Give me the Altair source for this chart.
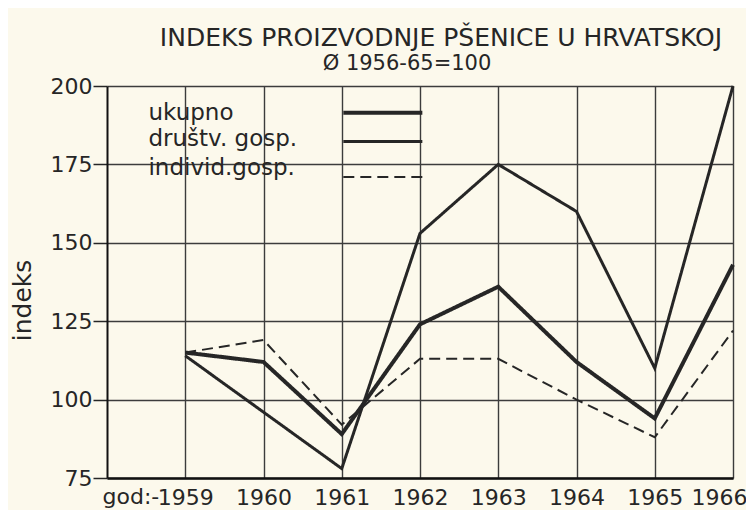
import altair as alt
import pandas as pd

# ---- data ----
years = [1959, 1960, 1961, 1962, 1963, 1964, 1965, 1966]
ukupno = [115, 112, 89, 124, 136, 112, 94, 143]
drustv = [114, 96, 78, 153, 175, 160, 110, 200]
individ = [115, 119, 92, 113, 113, 100, 88, 122]
series_names = ["ukupno", "društv. gosp.", "individ.gosp."]
y_ticks = [75, 100, 125, 150, 175, 200]
title_text = "INDEKS PROIZVODNJE PŠENICE U HRVATSKOJ"
subtitle_text = "Ø 1956-65=100"
x_prefix = "god:-"
y_title = "indeks"

rows = []
for name, vals in zip(series_names, [ukupno, drustv, individ]):
    for yr, v in zip(years, vals):
        rows.append({"godina": yr, "indeks": v, "serija": name})
df = pd.DataFrame(rows)

# legend placement (in data units, inside the plot)
legend_df = pd.DataFrame({
    "serija": series_names,
    "lx": [1958.53] * 3,
    "ty": [191.5, 183.0, 174.0],
    "ly": [191.5, 182.3, 171.0],
    "x1": [1961.02] * 3,
    "x2": [1962.03] * 3,
})

INK = "#262626"
GRID = "#3c3c3c"
BG = "#fcf9ec"
FONT = "DejaVu Sans"
W, H = 626, 392

xs = alt.Scale(domain=[1958, 1966], nice=False, zero=False)
ys = alt.Scale(domain=[75, 200], nice=False, zero=False)
width_scale = alt.Scale(domain=series_names, range=[4.0, 2.0, 2.1])
dash_scale = alt.Scale(domain=series_names, range=[[1, 0], [1, 0], [11, 6]])

x_axis = alt.Axis(values=years, format="d", grid=True, gridColor=GRID, gridWidth=1.4,
                  gridOpacity=1, ticks=False, labelFontSize=22, labelPadding=9,
                  labelOverlap=False, labelFlush=True, labelFlushOffset=14,
                  labelColor=INK, labelFont=FONT, domainColor="#111111", domainWidth=2.5,
                  title=None)
y_axis = alt.Axis(values=y_ticks, grid=True, gridColor=GRID, gridWidth=1.4, gridOpacity=1,
                  tickSize=14, tickColor=INK, tickWidth=1.5, labelFontSize=22,
                  labelPadding=1, labelColor=INK, labelFont=FONT,
                  domainColor="#111111", domainWidth=2, title=y_title,
                  titleFontSize=25, titleFont=FONT, titleFontWeight="normal",
                  titleColor=INK, titleX=-85, titleY=214, titleAngle=-90,
                  titleAlign="center", titleBaseline="middle")

lines = alt.Chart(df).mark_line(color=INK, strokeJoin="miter", strokeCap="butt").encode(
    x=alt.X("godina:Q", scale=xs, axis=x_axis),
    y=alt.Y("indeks:Q", scale=ys, axis=y_axis),
    detail="serija:N",
    strokeWidth=alt.StrokeWidth("serija:N", scale=width_scale, legend=None),
    strokeDash=alt.StrokeDash("serija:N", scale=dash_scale, legend=None),
)

leg_text = alt.Chart(legend_df).mark_text(align="left", baseline="middle", fontSize=23,
                                          font=FONT, color=INK).encode(
    x=alt.X("lx:Q", scale=xs), y=alt.Y("ty:Q", scale=ys), text="serija:N")

leg_lines = alt.Chart(legend_df).mark_rule(color=INK, strokeCap="butt").encode(
    x=alt.X("x1:Q", scale=xs), x2="x2:Q", y=alt.Y("ly:Q", scale=ys),
    strokeWidth=alt.StrokeWidth("serija:N", scale=width_scale, legend=None),
    strokeDash=alt.StrokeDash("serija:N", scale=dash_scale, legend=None),
)

title = alt.Chart(pd.DataFrame({"t": [title_text]})).mark_text(
    align="center", baseline="middle", fontSize=25, font=FONT, color=INK).encode(
    x=alt.value(334), y=alt.value(-48), text="t:N")

subtitle = alt.Chart(pd.DataFrame({"t": [subtitle_text]})).mark_text(
    align="center", baseline="middle", fontSize=21, font=FONT, color=INK).encode(
    x=alt.value(300), y=alt.value(-22), text="t:N")

prefix = alt.Chart(pd.DataFrame({"t": [x_prefix], "godina": [years[0]]})).mark_text(
    align="right", baseline="top", fontSize=22, font=FONT, color=INK, dx=-26, dy=9).encode(
    x=alt.X("godina:Q", scale=xs), y=alt.value(H), text="t:N")

chart = alt.layer(lines, leg_lines, leg_text, title, subtitle, prefix).properties(
    width=W, height=H,
    autosize=alt.AutoSizeParams(type="none"),
    padding={"left": 99, "top": 78, "right": 13, "bottom": 32},
    background=BG,
).configure_view(stroke=None)

chart.save("out.html", embed_options={"renderer": "svg", "actions": False})
